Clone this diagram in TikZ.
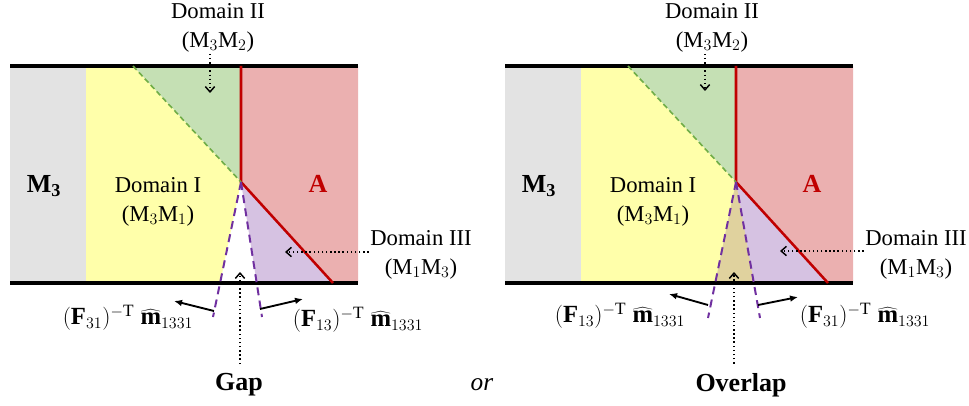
\documentclass[tikz,border=0pt]{standalone}
\usepackage{fontspec}
\setmainfont{Liberation Serif}
\usepackage{xcolor}
\usepackage{tikz}
\usetikzlibrary{
    positioning,
    arrows.meta
}

\definecolor{regM}{RGB}{227,227,227}
\definecolor{regI}{RGB}{255,255,170}
\definecolor{regII}{RGB}{197,224,180}
\definecolor{regA}{RGB}{235,176,176}
\definecolor{regIII}{RGB}{214,194,226}
\definecolor{regOv}{RGB}{224,210,158}
\definecolor{lineA}{RGB}{192,0,0}
\definecolor{lineII}{RGB}{112,173,71}
\definecolor{lineIII}{RGB}{112,48,160}

\begin{document}
\begin{tikzpicture}[
    x=0.75pt, y=-0.75pt,
    every node/.style={
        font=\fontsize{17}{21.5}\selectfont,
        align=center,
        inner sep=1pt
    },
    bigtext/.style={font=\fontsize{19.5}{23}\selectfont\bfseries},
    normtext/.style={font=\fontsize{18.5}{22}\selectfont, inner sep=0pt},
    wall/.style={line width=2.3pt},
    interface/.style={draw=lineA, line width=1.9pt, line join=miter},
    domdash/.style={draw=lineII, line width=1.2pt, dash pattern=on 4pt off 2.5pt},
    slipdash/.style={draw=lineIII, line width=1.5pt, dash pattern=on 6pt off 4pt},
    pointer/.style={line width=1.1pt, dotted, -{Straight Barb[length=4pt, width=7pt]}},
    normal/.style={line width=1.4pt, -{Latex[length=6pt, width=5pt]}}
]

\useasboundingbox (0,0) rectangle (969,406);

\foreach \s in {0,495}{
    \begin{scope}[xshift={\s*0.75pt}]
        \fill[regM] (10,66) rectangle (86,283);
        \fill[regII] (133,66) -- (241,66) -- (241,182) -- cycle;
        \fill[regA] (241,66) -- (358,66) -- (358,283) -- (333,283) -- (241,182) -- cycle;
    \end{scope}
}

% gap
\coordinate (apexL) at (241,182);
\coordinate (slipLa) at (213,317);
\coordinate (slipLb) at (262,317);
\fill[regI] (86,66) -- (133,66) -- (apexL)
    -- (intersection of apexL--slipLa and 0,283--1,283) -- (86,283) -- cycle;
\fill[regIII] (apexL) -- (333,283)
    -- (intersection of apexL--slipLb and 0,283--1,283) -- cycle;

% overlap
\coordinate (apexR) at (736,182);
\coordinate (slipRa) at (708,318);
\coordinate (slipRb) at (760,318);
\fill[regI] (581,66) -- (628,66) -- (apexR)
    -- (intersection of apexR--slipRb and 0,283--1,283) -- (581,283) -- cycle;
\fill[regIII] (apexR) -- (828,283)
    -- (intersection of apexR--slipRa and 0,283--1,283) -- cycle;
\fill[regOv] (apexR)
    -- (intersection of apexR--slipRb and 0,283--1,283)
    -- (intersection of apexR--slipRa and 0,283--1,283) -- cycle;

\foreach \s in {0,495}{
    \begin{scope}[xshift={\s*0.75pt}]
        \draw[wall] (10,66) -- (358,66);
        \draw[wall] (10,283) -- (358,283);
        \draw[interface] (241,66) -- (241,182) -- (333,283);
        \draw[domdash] (133,66) -- (241,182);
    \end{scope}
}

\draw[slipdash] (apexL) -- (slipLa);
\draw[slipdash] (apexL) -- (slipLb);
\draw[slipdash] (apexR) -- (slipRa);
\draw[slipdash] (apexR) -- (slipRb);

\node[bigtext] (m3L) at (44,186) {M$_\mathbf{3}$};
\node[bigtext, text=lineA] (aL) at (318,184) {A};
\node (domIL) at (158,202) {Domain I\\(M$_3$M$_1$)};
\node (domIIL) at (218,28) {Domain II\\(M$_3$M$_2$)};
\node (domIIIL) at (421,255) {Domain III\\(M$_1$M$_3$)};
\node[normtext] (nrmLa) at (128,318) {$(\mathbf{F}_{31})^{-\mathrm{T}}\;\widehat{\mathbf{m}}_{1331}$};
\node[normtext] (nrmLb) at (358,320) {$(\mathbf{F}_{13})^{-\mathrm{T}}\;\widehat{\mathbf{m}}_{1331}$};
\node[bigtext] (gap) at (239,385) {Gap};

\node[bigtext] (m3R) at (539,186) {M$_\mathbf{3}$};
\node[bigtext, text=lineA] (aR) at (812,184) {A};
\node (domIR) at (653,202) {Domain I\\(M$_3$M$_1$)};
\node (domIIR) at (712,28) {Domain II\\(M$_3$M$_2$)};
\node (domIIIR) at (916,255) {Domain III\\(M$_1$M$_3$)};
\node[normtext] (nrmRa) at (620,316) {$(\mathbf{F}_{13})^{-\mathrm{T}}\;\widehat{\mathbf{m}}_{1331}$};
\node[normtext] (nrmRb) at (865,316) {$(\mathbf{F}_{31})^{-\mathrm{T}}\;\widehat{\mathbf{m}}_{1331}$};
\node[bigtext] (overlap) at (741,385) {Overlap};

\node[font=\fontsize{19}{23}\selectfont\itshape] (or) at (482,385) {or};

\coordinate (tipIIL) at (210,93);
\coordinate (tipIIIL) at (285,252);
\coordinate (tipGap) at (240,272);
\coordinate (tipIIR) at (705,91);
\coordinate (tipIIIR) at (780,251);
\coordinate (tipOv) at (734,272);

\draw[pointer] (tipIIL |- domIIL.south) -- (tipIIL);
\draw[pointer] (domIIIL.west |- tipIIIL) -- (tipIIIL);
\draw[pointer] (tipGap |- gap.north) ++(0,-8) -- (tipGap);
\draw[pointer] (tipIIR |- domIIR.south) -- (tipIIR);
\draw[pointer] (domIIIR.west |- tipIIIR) -- (tipIIIR);
\draw[pointer] (tipOv |- overlap.north) ++(0,-8) -- (tipOv);

\coordinate (footLa) at (214,311);
\coordinate (footLb) at (260,309);
\coordinate (footRa) at (708,305);
\coordinate (footRb) at (758,305);
\draw[normal] (footLa) -- (174,301);
\draw[normal] (footLb) -- (303,299);
\draw[normal] (footRa) -- (669,294);
\draw[normal] (footRb) -- (798,297);

\end{tikzpicture}
\end{document}
